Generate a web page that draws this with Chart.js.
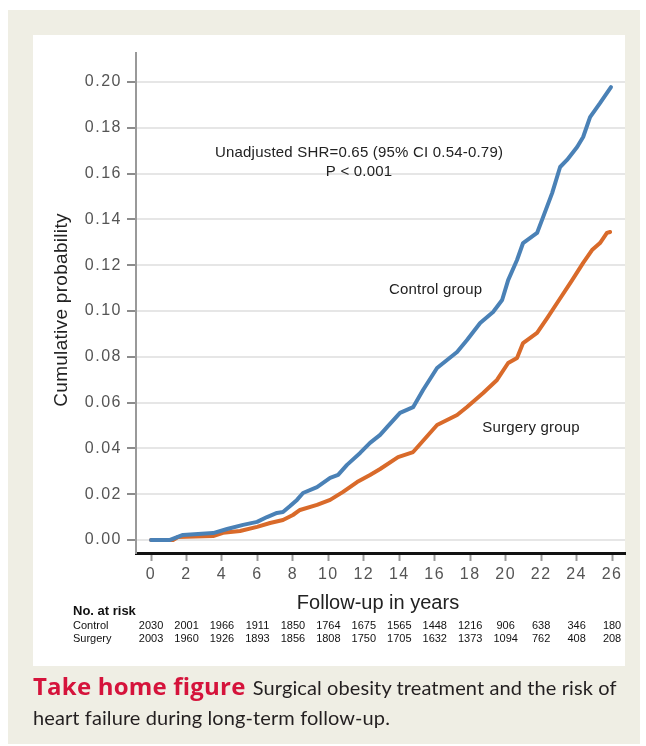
<!DOCTYPE html>
<html>
<head>
<meta charset="utf-8">
<script src="https://cdn.jsdelivr.net/npm/chart.js@4.4.1/dist/chart.umd.min.js"></script>
<style>
  html, body { margin: 0; padding: 0; background: #fff; width: 646px; height: 746px; overflow: hidden; }
  #frame { position: absolute; left: 8px; top: 10px; width: 632px; height: 734px; background: #efeee4; }
  #panel { position: absolute; left: 33px; top: 35px; width: 592px; height: 631px; background: #fff; }
  #c { position: absolute; left: 0; top: 0; }
  #caption { position: absolute; left: 33px; top: 671px; width: 596px; font-family: Lato, "Open Sans", sans-serif;
             font-size: 20px; letter-spacing: 0.1px; line-height: 30px; color: #231f20; }
  #caption b { color: #d5133b; font-family: "Open Sans", Lato, sans-serif; font-size: 24px; font-weight: 700;
               letter-spacing: 0.2px; margin-right: 2px; }
</style>
</head>
<body>
<div id="frame"></div>
<div id="panel"></div>
<canvas id="c" width="646" height="746"></canvas>
<div id="caption"><b>Take home figure</b> Surgical obesity treatment and the risk of heart failure during long-term follow-up.</div>
<script>
// Cumulative incidence of heart failure, control group
const controlYears = [0, 1.07, 1.8, 3.5, 4.29, 5.19, 5.98, 6.54, 7.1, 7.44, 7.84, 8.23, 8.57, 9.36, 10.1,
  10.55, 11.05, 11.79, 12.35, 12.92, 13.31, 14.04, 14.78, 15.34, 16.13, 17.26, 17.82, 18.56, 19.29, 19.8,
  20.14, 20.64, 20.98, 21.77, 22.11, 22.62, 23.07, 23.46, 24.03, 24.37, 24.76, 25.32, 25.6, 25.94];
const controlRisk = [0, 0, 0.0022, 0.003, 0.0048, 0.0066, 0.0079, 0.010, 0.0118, 0.0122, 0.0148, 0.0175, 0.0205, 0.0231, 0.0271,
  0.0284, 0.0328, 0.038, 0.0424, 0.0459, 0.0493, 0.0555, 0.058, 0.0655, 0.0751, 0.0821, 0.0873, 0.0948, 0.0996, 0.1048,
  0.1135, 0.1223, 0.1297, 0.1341, 0.141, 0.1515, 0.1629, 0.166, 0.1716, 0.176, 0.1847, 0.1908, 0.194, 0.1978];

// Cumulative incidence of heart failure, surgery group
const surgeryYears = [0, 1.24, 1.52, 3.5, 4.06, 5.02, 5.98, 6.71, 7.44, 8.0, 8.4, 9.36, 10.1, 10.83, 11.62,
  12.35, 12.92, 13.93, 14.78, 16.13, 17.26, 17.82, 18.73, 19.51, 20.14, 20.64, 20.98, 21.77, 22.34, 22.9,
  23.75, 24.37, 24.87, 25.32, 25.71, 25.89];
const surgeryRisk = [0, 0, 0.0013, 0.0017, 0.0031, 0.0039, 0.0057, 0.0074, 0.0087, 0.0109, 0.0131, 0.0153, 0.0175, 0.021, 0.0253,
  0.0284, 0.031, 0.0362, 0.0384, 0.0502, 0.0546, 0.0581, 0.0642, 0.0699, 0.0773, 0.0795, 0.086, 0.0904, 0.0969, 0.1035,
  0.1135, 0.121, 0.1266, 0.1297, 0.1341, 0.1345];

// Axis ticks
const xTicks = [0, 2, 4, 6, 8, 10, 12, 14, 16, 18, 20, 22, 24, 26];
const yTicks = [0, 0.02, 0.04, 0.06, 0.08, 0.10, 0.12, 0.14, 0.16, 0.18, 0.20];

// Number at risk, one value per x tick
const riskYears = [0, 2, 4, 6, 8, 10, 12, 14, 16, 18, 20, 22, 24, 26];
const atRiskControl = [2030, 2001, 1966, 1911, 1850, 1764, 1675, 1565, 1448, 1216, 906, 638, 346, 180];
const atRiskSurgery = [2003, 1960, 1926, 1893, 1856, 1808, 1750, 1705, 1632, 1373, 1094, 762, 408, 208];

// Text labels placed in data coordinates
const noteLabels = [
  { text: 'Unadjusted SHR=0.65 (95% CI 0.54-0.79)', x: 11.73, y: 0.169 },
  { text: 'P < 0.001', x: 11.73, y: 0.161 },
  { text: 'Control group', x: 16.05, y: 0.1092 },
  { text: 'Surgery group', x: 21.43, y: 0.0489 }
];

const FONT = '"Liberation Sans", Arial, Helvetica, sans-serif';

const textPlugin = {
  id: 'textPlugin',
  beforeDraw(chart) {
    // slightly wider tracking for the tick labels
    chart.ctx.letterSpacing = '1.5px';
  },
  afterDraw(chart) {
    const ctx = chart.ctx;
    const xs = chart.scales.x, ys = chart.scales.y;
    ctx.save();
    ctx.fillStyle = '#222';
    ctx.textBaseline = 'middle';
    ctx.textAlign = 'center';
    ctx.letterSpacing = '0.2px';
    ctx.font = '15px ' + FONT;
    noteLabels.forEach(l => ctx.fillText(l.text, xs.getPixelForValue(l.x), ys.getPixelForValue(l.y)));

    // axis titles
    ctx.letterSpacing = '0px';
    ctx.font = '20px ' + FONT;
    ctx.fillText('Follow-up in years', 378, 603);
    ctx.save();
    ctx.translate(62, 310);
    ctx.rotate(-Math.PI / 2);
    ctx.letterSpacing = '0.3px';
    ctx.font = '19px ' + FONT;
    ctx.fillText('Cumulative probability', 0, 0);
    ctx.restore();

    // number-at-risk table
    ctx.letterSpacing = '0px';
    ctx.textAlign = 'left';
    ctx.fillStyle = '#111';
    ctx.font = 'bold 13px ' + FONT;
    ctx.fillText('No. at risk', 73, 611);
    ctx.font = '11px ' + FONT;
    ctx.fillText('Control', 73, 626);
    ctx.fillText('Surgery', 73, 639);
    ctx.textAlign = 'center';
    riskYears.forEach((yr, i) => {
      const px = xs.getPixelForValue(yr);
      ctx.fillText(String(atRiskControl[i]), px, 626);
      ctx.fillText(String(atRiskSurgery[i]), px, 639);
    });
    ctx.restore();
  }
};

const toPoints = (xsArr, ysArr) => xsArr.map((x, i) => ({ x: x, y: ysArr[i] }));

new Chart(document.getElementById('c'), {
  type: 'line',
  data: {
    datasets: [
      { label: 'Control group', data: toPoints(controlYears, controlRisk), borderColor: '#4a81b6',
        borderWidth: 4, pointRadius: 0, tension: 0, fill: false, borderJoinStyle: 'round', borderCapStyle: 'round' },
      { label: 'Surgery group', data: toPoints(surgeryYears, surgeryRisk), borderColor: '#d96a2a',
        borderWidth: 4, pointRadius: 0, tension: 0, fill: false, borderJoinStyle: 'round', borderCapStyle: 'round' }
    ]
  },
  options: {
    responsive: false,
    animation: false,
    devicePixelRatio: 1,
    layout: { padding: { left: 0, right: 21, top: 53, bottom: 0 } },
    plugins: { legend: { display: false }, tooltip: { enabled: false } },
    scales: {
      x: {
        type: 'linear', min: -0.85, max: 26.73,
        afterBuildTicks: s => { s.ticks = xTicks.map(v => ({ value: v })); },
        afterFit: s => { s.height = 193; },
        grid: { drawOnChartArea: false, drawTicks: true, tickLength: 8, tickWidth: 2, tickColor: '#9a9a9a' },
        border: { color: '#111', width: 3 },
        ticks: { font: { size: 16, family: FONT }, color: '#555', padding: 4, maxRotation: 0,
                 callback: v => String(v) }
      },
      y: {
        type: 'linear', min: -0.0057, max: 0.2127,
        afterBuildTicks: s => { s.ticks = yTicks.map(v => ({ value: v })); },
        afterFit: s => { s.width = 136; },
        grid: { color: '#e6e6e6', lineWidth: 2, tickLength: 9, tickWidth: 2, tickColor: '#8c8c8c' },
        border: { color: '#999', width: 2 },
        ticks: { font: { size: 16, family: FONT }, color: '#555', padding: 5, callback: v => v.toFixed(2) }
      }
    }
  },
  plugins: [textPlugin]
});
</script>
</body>
</html>
